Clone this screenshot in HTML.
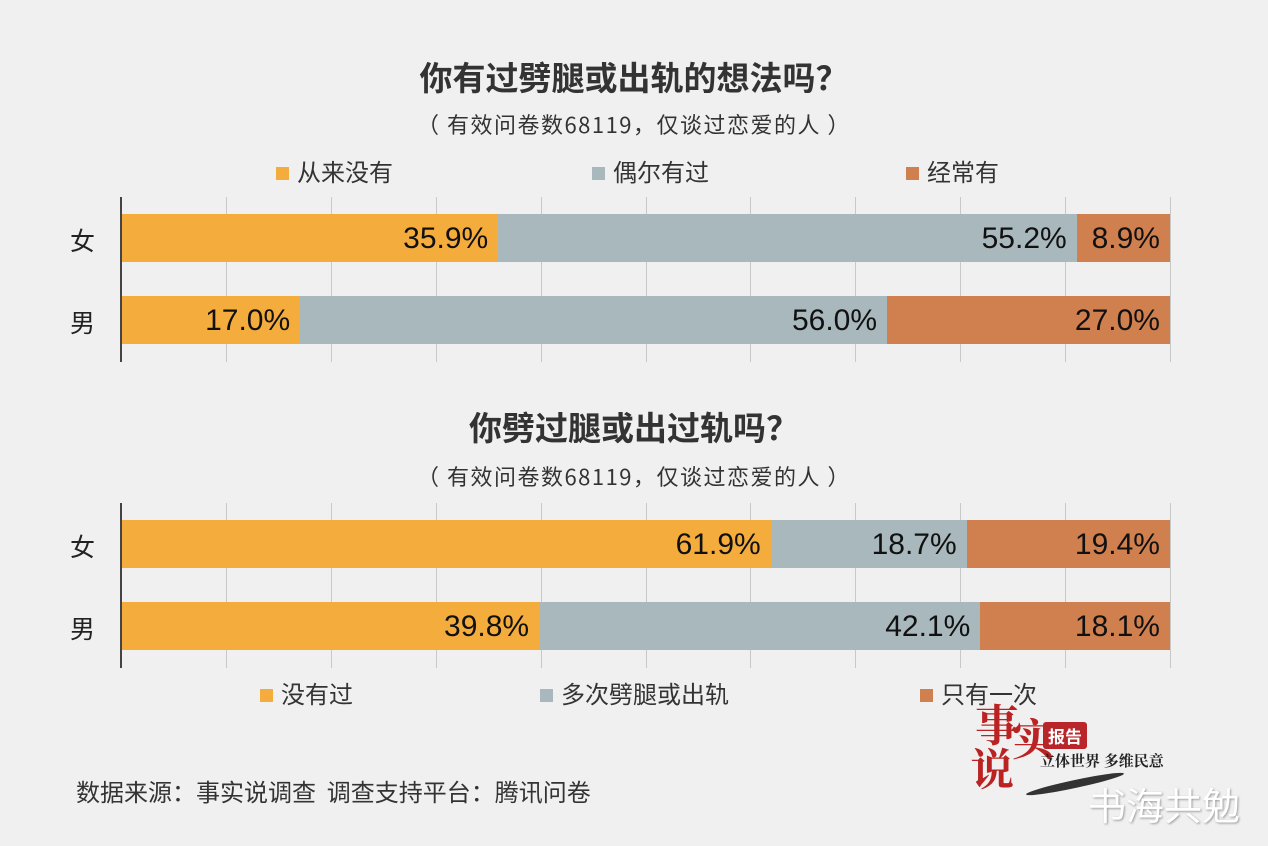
<!DOCTYPE html>
<html><head><meta charset="utf-8"><style>
body{margin:0;width:1268px;height:846px;background:#f0f0f0;position:relative;overflow:hidden;font-family:"Liberation Sans","Noto Sans CJK SC",sans-serif;color:#222}
.a{position:absolute}
.t{font-weight:bold;font-size:33px;color:#333;left:0;width:1268px;text-align:center;font-family:"Noto Sans CJK SC",sans-serif}
.s{font-size:22px;color:#333;left:0;width:1268px;text-align:center;letter-spacing:1.5px;font-family:"Noto Sans CJK SC",sans-serif}
.bar{position:absolute;height:48px;font-size:30px;line-height:50px;text-align:right;box-sizing:border-box;padding-right:10px;color:#111}
.o{background:#f4ad3d}.g{background:#a8b8bc}.r{background:#d07f4f}
.tick{position:absolute;width:1px;background:#c8c8c8}
.ax{position:absolute;width:2px;background:#444}
.lab{position:absolute;font-size:25px;color:#222}
.leg{position:absolute;font-size:24px;color:#333}
.leg i{display:inline-block;width:13px;height:13px;margin-right:8px;vertical-align:1px}
</style></head><body>
<div class="a t" style="top:52px">你有过劈腿或出轨的想法吗？</div>
<div class="a s" style="top:108px">（ 有效问卷数68119，仅谈过恋爱的人 ）</div>
<div class="leg" style="left:276px;top:153px"><i class="o"></i>从来没有</div>
<div class="leg" style="left:592px;top:153px"><i class="g"></i>偶尔有过</div>
<div class="leg" style="left:906px;top:153px"><i class="r"></i>经常有</div>

<div id="c1"></div>
<div class="a t" style="top:402px">你劈过腿或出过轨吗？</div>
<div class="a s" style="top:460px">（ 有效问卷数68119，仅谈过恋爱的人 ）</div>
<div class="leg" style="left:260px;top:675px"><i class="o"></i>没有过</div>
<div class="leg" style="left:540px;top:675px"><i class="g"></i>多次劈腿或出轨</div>
<div class="leg" style="left:920px;top:675px"><i class="r"></i>只有一次</div>

<div class="a" style="left:76px;top:773px;font-size:24px;color:#333;font-family:'Noto Sans CJK SC',sans-serif">数据来源：事实说调查&nbsp; 调查支持平台：腾讯问卷</div>
<div class="a" style="left:975px;top:700px;font-size:44px;color:#b22;font-family:'Noto Serif CJK SC',serif;font-weight:bold;line-height:44px">事<br><span style="margin-left:-5px">说</span><span style="position:relative;top:-30px;margin-left:-2px">实</span></div>
<div class="a" style="left:1043px;top:722px;background:#b8262a;color:#fff;font-size:17px;font-weight:bold;padding:1px 5px;border-radius:3px">报告</div>
<div class="a" style="left:1040px;top:750px;font-size:15px;font-weight:bold;font-family:'Noto Serif CJK SC',serif;color:#222">立体世界 多维民意</div>
<div class="a" style="left:1025px;top:780px;width:100px;height:8px;background:#333;border-radius:50%;transform:rotate(-12deg)"></div>
<div class="a" style="left:1088px;top:776px;font-size:38px;color:#fff;text-shadow:1px 1px 2px #999">书海共勉</div>

<script>
function chart(top,rows){
 var h='';
 for(var i=1;i<=10;i++){h+='<div class="tick" style="left:'+(121+i*104.9)+'px;top:'+top+'px;height:165px"></div>'}
 h+='<div class="ax" style="left:120px;top:'+top+'px;height:165px"></div>';
 rows.forEach(function(r,k){
  var y=top+17+k*82,x=122;
  h+='<div class="lab" style="left:70px;top:'+(y+8)+'px">'+r[0]+'</div>';
  var cls=['o','g','r'];
  for(var j=0;j<3;j++){var w=r[1][j]/100*1048;h+='<div class="bar '+cls[j]+'" style="left:'+x+'px;top:'+y+'px;width:'+w+'px">'+r[1][j].toFixed(1)+'%</div>';x+=w;}
 });
 document.getElementById('c1').insertAdjacentHTML('beforeend',h);
}
chart(197,[['女',[35.9,55.2,8.9]],['男',[17.0,56.0,27.0]]]);
chart(503,[['女',[61.9,18.7,19.4]],['男',[39.8,42.1,18.1]]]);
</script>
</body></html>
